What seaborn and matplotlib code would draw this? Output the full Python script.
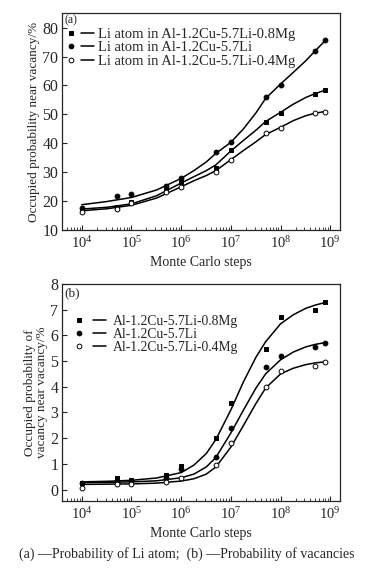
import numpy as np
import pandas as pd
import matplotlib
matplotlib.use("Agg")
import matplotlib.pyplot as plt
import seaborn as sns
from matplotlib.lines import Line2D
from matplotlib.legend_handler import HandlerTuple
from matplotlib.ticker import LogLocator, NullFormatter

# measured points
steps = [1e4, 5e4, 1e5, 5e5, 1e6, 5e6, 1e7, 5e7, 1e8, 5e8, 8e8]
li_08mg = [16.5, 18.0, 19.5, 24.5, 26.5, 31.5, 37.5, 47.5, 50.5, 57.0, 58.3]
li_base = [17.5, 21.7, 22.3, 25.3, 28.0, 36.8, 40.5, 56.0, 60.3, 72.0, 75.8]
li_04mg = [16.0, 17.3, 19.3, 23.0, 25.0, 30.0, 34.3, 43.4, 45.2, 50.3, 50.8]

vac_08mg = [0.25, 0.45, 0.38, 0.55, 0.9, 2.0, 3.35, 5.45, 6.7, 7.0, 7.3]
vac_base = [0.25, 0.3, 0.35, 0.45, 0.8, 1.25, 2.4, 4.75, 5.2, 5.55, 5.72]
vac_04mg = [0.07, 0.2, 0.2, 0.28, 0.45, 0.95, 1.8, 4.0, 4.62, 4.82, 4.95]

# fitted curves
curve_steps = [1e4, 3.2e4, 1e5, 3.2e5, 1e6, 1.8e6, 3.2e6, 5e6, 1e7, 1.8e7,
               3.2e7, 5e7, 1e8, 1.8e8, 3.2e8, 5e8, 8e8]
li_08mg_fit = [17.2, 17.8, 19.0, 21.8, 26.2, 28.4, 30.5, 32.5, 37.3, 41.0,
               44.5, 47.5, 50.7, 53.5, 55.8, 57.2, 58.4]
li_base_fit = [18.7, 19.8, 21.2, 23.8, 27.8, 30.5, 33.5, 36.5, 40.3, 45.0,
               50.5, 55.5, 60.5, 64.5, 68.5, 72.0, 75.6]
li_04mg_fit = [16.6, 17.3, 18.5, 21.0, 24.9, 27.0, 28.8, 30.5, 34.3, 37.5,
               40.5, 43.0, 45.5, 47.8, 49.5, 50.4, 51.0]

vac_08mg_fit = [0.3, 0.32, 0.36, 0.45, 0.66, 0.95, 1.4, 1.95, 3.1, 4.2,
                5.15, 5.75, 6.45, 6.8, 7.05, 7.18, 7.28]
vac_base_fit = [0.27, 0.28, 0.3, 0.34, 0.46, 0.6, 0.88, 1.25, 2.2, 3.1,
                3.95, 4.5, 5.05, 5.35, 5.55, 5.65, 5.72]
vac_04mg_fit = [0.2, 0.21, 0.22, 0.25, 0.33, 0.42, 0.6, 0.88, 1.65, 2.5,
                3.35, 3.95, 4.5, 4.72, 4.86, 4.93, 4.97]

alloys = ["Al-1.2Cu-5.7Li-0.8Mg", "Al-1.2Cu-5.7Li", "Al-1.2Cu-5.7Li-0.4Mg"]
markers = ["s", "o", "o"]
faces = ["black", "black", "white"]

sns.set_style("ticks")
plt.rcParams["font.family"] = ["Liberation Serif", "DejaVu Serif"]
plt.rcParams["mathtext.fontset"] = "stix"

fig = plt.figure(figsize=(3.73, 5.76), dpi=100)
ax_a = fig.add_axes([0.166, 0.601, 0.746, 0.376])
ax_b = fig.add_axes([0.166, 0.130, 0.746, 0.377])


def draw(ax, points, fits):
    handles = []
    for pts, fit, m, fc in zip(points, fits, markers, faces):
        fdf = pd.DataFrame({"x": curve_steps, "y": fit})
        sns.lineplot(data=fdf, x="x", y="y", ax=ax, color="black", lw=1.1)
        pdf = pd.DataFrame({"x": steps, "y": pts})
        sns.scatterplot(data=pdf, x="x", y="y", ax=ax, marker=m, s=12,
                        facecolor=fc, edgecolor="black", linewidth=0.7, zorder=3)
        mk = Line2D([], [], ls="none", marker=m, ms=3.4, mfc=fc, mec="black", mew=0.7)
        ln = Line2D([], [], color="black", lw=1.1)
        handles.append((mk, ln))
    return handles


def style(ax):
    ax.set_xscale("log")
    ax.set_xlim(10 ** 3.6, 10 ** 9.2)
    ax.xaxis.set_major_locator(LogLocator(base=10, numticks=10))
    ax.xaxis.set_minor_locator(LogLocator(base=10, subs=np.arange(2, 10), numticks=20))
    ax.xaxis.set_minor_formatter(NullFormatter())
    ax.tick_params(axis="both", which="major", direction="in", length=3.5, width=0.8)
    ax.tick_params(axis="x", which="major", labelsize=10.5)
    ax.tick_params(axis="y", which="major", labelsize=11.5, pad=2.5)
    ax.tick_params(axis="x", which="minor", direction="in", length=2, width=0.6)
    for sp in ax.spines.values():
        sp.set_linewidth(0.9)
        sp.set_visible(True)
    ax.set_xlabel("Monte Carlo steps", fontsize=10, labelpad=4)


# panel (a)
h_a = draw(ax_a, [li_08mg, li_base, li_04mg],
           [li_08mg_fit, li_base_fit, li_04mg_fit])
style(ax_a)
ax_a.set_ylim(10, 85)
ax_a.set_yticks([10, 20, 30, 40, 50, 60, 70, 80])
ax_a.set_ylabel("Occupied probability near vacancy/%", fontsize=9.5, labelpad=2)
ax_a.text(0.01, 0.995, "(a)", transform=ax_a.transAxes, fontsize=8.5,
          va="top", ha="left")
ax_a.legend(h_a, ["Li atom in " + a for a in alloys],
            handler_map={tuple: HandlerTuple(ndivide=None, pad=0.2)},
            loc="upper left", bbox_to_anchor=(0.0, 0.945), frameon=False,
            fontsize=10.5, handlelength=2.0, handletextpad=0.3, labelspacing=0.0,
            borderaxespad=0.1, borderpad=0.1)

# panel (b)
h_b = draw(ax_b, [vac_08mg, vac_base, vac_04mg],
           [vac_08mg_fit, vac_base_fit, vac_04mg_fit])
style(ax_b)
ax_b.set_ylim(-0.45, 8.0)
ax_b.set_yticks(range(0, 9))
ax_b.set_ylabel("Occupied probability of\nvacancy near vacancy/%", fontsize=9.5,
                labelpad=2, linespacing=1.0)
ax_b.text(0.01, 0.985, "(b)", transform=ax_b.transAxes, fontsize=9.5,
          va="top", ha="left")
ax_b.legend(h_b, alloys,
            handler_map={tuple: HandlerTuple(ndivide=None, pad=0.6)},
            loc="upper left", bbox_to_anchor=(0.03, 0.87), frameon=False,
            fontsize=9.8, handlelength=2.4, handletextpad=0.5, labelspacing=0.0,
            borderaxespad=0.1, borderpad=0.1)

fig.text(0.5, 0.038, "(a) \u2014Probability of Li atom;  (b) \u2014Probability of vacancies",
         ha="center", va="center", fontsize=10)

fig.savefig("out.png", dpi=100)
